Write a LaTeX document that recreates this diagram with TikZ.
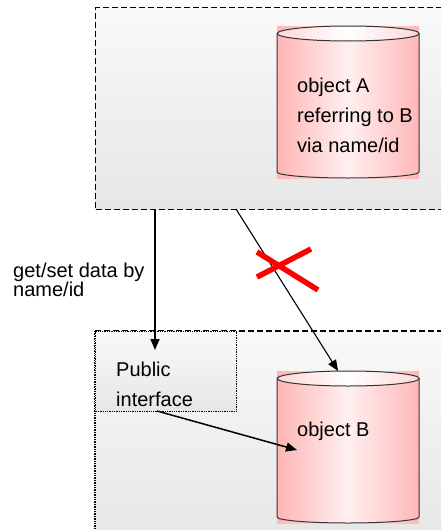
\documentclass[tikz,border=0pt]{standalone}
\usepackage{fontspec}
\setmainfont{Liberation Sans}
\usetikzlibrary{arrows.meta,positioning}

\definecolor{areatop}{RGB}{249,249,249}
\definecolor{areabot}{RGB}{230,230,230}
\definecolor{pinkedge}{RGB}{255,182,182}
\definecolor{pinkmid}{RGB}{255,240,240}

\tikzset{
  area/.style={rectangle, inner sep=0pt, top color=areatop, bottom color=areabot},
  store/.style={rectangle, inner sep=0pt, minimum width=142pt,
    left color=pinkedge, right color=pinkedge, middle color=pinkmid},
  lid/.style={left color=pinkedge!55!white, right color=pinkedge!55!white, middle color=white},
  txt/.style={font=\fontsize{20}{30}\selectfont, align=left, inner sep=0pt, anchor=north west},
  link/.style={line width=1.5pt, -{Triangle[length=11pt,width=9pt]}},
  cross/.style={red, line width=5.5pt},
  fence/.style={line width=1.4pt, dash pattern=on 6pt off 3pt},
}

\begin{document}
\begin{tikzpicture}[x=1pt,y=-1pt]
\useasboundingbox (0,0) rectangle (441,530);
\clip (0,0) rectangle (441,530);

% the two areas
\node[area, draw, fence, minimum width=360pt, minimum height=202pt, anchor=north west] (upper) at (95,7) {};
\node[area, minimum width=360pt, minimum height=210pt, anchor=north west] (lower) at (95,331) {};
\draw[fence] (lower.north west) -- (lower.north east);
\draw[line width=1.4pt, densely dotted] (lower.north west) -- (lower.south west);

% public interface
\node[area, draw, line width=1.3pt, densely dotted, minimum width=141pt, minimum height=80pt, anchor=north west] (api) at (95,331) {};

% object A
\node[store, minimum height=152pt, anchor=north west] (objA) at (277,26) {};
\draw[line width=1pt, black!80] (objA.north west) ++(0,7.5) -- ++(0,138.5)
  arc[start angle=180, end angle=360, x radius=71pt, y radius=6pt] -- ++(0,-138.5);
\draw[lid, line width=1pt, draw=black!80] (objA.north) ++(0,7.5) ellipse [x radius=71pt, y radius=7.5pt];

% object B
\node[store, minimum height=152pt, anchor=north west] (objB) at (277,371) {};
\draw[line width=1pt, black!80] (objB.north west) ++(0,7.5) -- ++(0,138.5)
  arc[start angle=180, end angle=360, x radius=71pt, y radius=6pt] -- ++(0,-138.5);
\draw[lid, line width=1pt, draw=black!80] (objB.north) ++(0,7.5) ellipse [x radius=71pt, y radius=7.5pt];

% labels
\node[txt] (txtA) at (297,78) {object A\\referring to B\\via name/id};
\node[txt] (txtB) at (297,422) {object B};
\node[txt] (txtapi) at (116,362) {Public\\interface};
\node[txt, font=\fontsize{20}{19}\selectfont] (getset) at (13,263) {get/set data by\\name/id};

% connectors
\coordinate (apiin) at (155,350);
\coordinate (refB) at (338,371);
\coordinate (refA) at (236,209);
\coordinate (apiout) at (157,411);
\coordinate (intoB) at (297,450);
\draw[link] (upper.south -| apiin) -- (apiin);
\draw[link, line width=1.1pt] (refA) -- (refB);
\draw[link] (apiout) -- (intoB);

% broken reference
\coordinate (cut) at (283,268);
\draw[cross] (cut) ++(-26,-16) -- ++(61,38);
\draw[cross] (cut) ++(-26,9) -- ++(54,-28);
\end{tikzpicture}
\end{document}
